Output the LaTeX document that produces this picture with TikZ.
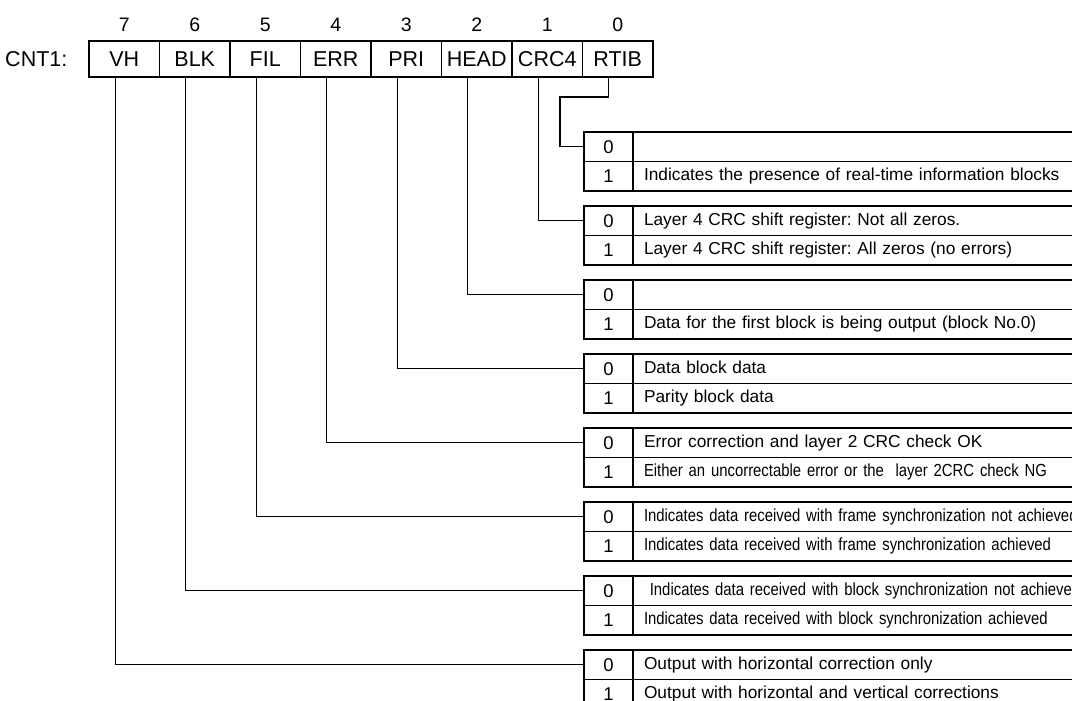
\documentclass[tikz,border=0pt]{standalone}
\usepackage{fontspec}
\setmainfont{Liberation Sans}
\newfontfamily\narrowfont[FakeStretch=0.85]{Liberation Sans}
\usetikzlibrary{positioning}

\tikzset{
    reg/.style={draw, rectangle, minimum width=70.5pt, minimum height=36pt,
        inner sep=0pt, outer sep=0pt, font=\fontsize{21.5}{24}\selectfont},
    regname/.style={inner sep=0pt, font=\fontsize{21.5}{24}\selectfont},
    bitno/.style={inner sep=0pt, font=\fontsize{19.5}{22}\selectfont},
    val/.style={draw, rectangle, minimum width=49pt, minimum height=29.5pt,
        inner sep=0pt, outer sep=0pt, font=\fontsize{18.5}{20}\selectfont},
    desc/.style={draw, rectangle, minimum height=29.5pt, text width=600pt,
        inner xsep=11pt, inner ysep=0pt, outer sep=0pt, align=left,
        text height=12.5pt, text depth=3.5pt, font=\frenchspacing\fontsize{17.3}{20}\selectfont},
    narrow/.style={desc, font=\frenchspacing\narrowfont\fontsize{17.5}{20}\selectfont},
}

\begin{document}
\begin{tikzpicture}[x=1pt,y=-1pt,line width=1.3pt,node distance=0pt,label distance=9pt]
    \useasboundingbox (0,0) rectangle (1072,701);
    \clip (0,0) rectangle (1072,701);

    % register CNT1
    \node   [reg, anchor=west, label={[bitno]above:7}]  (vh)   at (89,59) {VH};
    \node   [reg, label={[bitno]above:6}]   [right=of vh]       (blk)   {BLK};
    \node   [reg, label={[bitno]above:5}]   [right=of blk]      (fil)   {FIL};
    \node   [reg, label={[bitno]above:4}]   [right=of fil]      (err)   {ERR};
    \node   [reg, label={[bitno]above:3}]   [right=of err]      (pri)   {PRI};
    \node   [reg, label={[bitno]above:2}]   [right=of pri]      (head)  {HEAD};
    \node   [reg, label={[bitno]above:1}]   [right=of head]     (crc)   {CRC4};
    \node   [reg, label={[bitno]above:0}]   [right=of crc]      (rtib)  {RTIB};
    \node   [regname]                       [left=21pt of vh]   (cnt)   {CNT1:};

    % bit value tables
    \node   [val, anchor=north west]        (rtib0) at (584,132) {0};
    \node   [val]   [below=of rtib0]        (rtib1) {1};
    \node   [val]   [below=15pt of rtib1]   (crc0)  {0};
    \node   [val]   [below=of crc0]         (crc1)  {1};
    \node   [val]   [below=15pt of crc1]    (head0) {0};
    \node   [val]   [below=of head0]        (head1) {1};
    \node   [val]   [below=15pt of head1]   (pri0)  {0};
    \node   [val]   [below=of pri0]         (pri1)  {1};
    \node   [val]   [below=15pt of pri1]    (err0)  {0};
    \node   [val]   [below=of err0]         (err1)  {1};
    \node   [val]   [below=15pt of err1]    (fil0)  {0};
    \node   [val]   [below=of fil0]         (fil1)  {1};
    \node   [val]   [below=15pt of fil1]    (blk0)  {0};
    \node   [val]   [below=of blk0]         (blk1)  {1};
    \node   [val]   [below=15pt of blk1]    (vh0)   {0};
    \node   [val]   [below=of vh0]          (vh1)   {1};

    \node   [desc]      [right=of rtib0]    (rtibt0) {};
    \node   [desc]      [right=of rtib1]    (rtibt1) {Indicates the presence of real-time information blocks};
    \node   [desc]      [right=of crc0]     (crct0)  {Layer 4 CRC shift register: Not all zeros.};
    \node   [desc]      [right=of crc1]     (crct1)  {Layer 4 CRC shift register: All zeros (no errors)};
    \node   [desc]      [right=of head0]    (headt0) {};
    \node   [desc]      [right=of head1]    (headt1) {Data for the first block is being output (block No.0)};
    \node   [desc]      [right=of pri0]     (prit0)  {Data block data};
    \node   [desc]      [right=of pri1]     (prit1)  {Parity block data};
    \node   [desc]      [right=of err0]     (errt0)  {Error correction and layer 2 CRC check OK};
    \node   [narrow]    [right=of err1]     (errt1)  {Either an uncorrectable error or the \ layer 2CRC check NG};
    \node   [narrow]    [right=of fil0]     (filt0)  {Indicates data received with frame synchronization not achieved};
    \node   [narrow]    [right=of fil1]     (filt1)  {Indicates data received with frame synchronization achieved};
    \node   [narrow]    [right=of blk0]     (blkt0)  {\ Indicates data received with block synchronization not achieved};
    \node   [narrow]    [right=of blk1]     (blkt1)  {Indicates data received with block synchronization achieved};
    \node   [desc]      [right=of vh0]      (vht0)   {Output with horizontal correction only};
    \node   [desc]      [right=of vh1]      (vht1)   {Output with horizontal and vertical corrections};

    % bit lines
    \draw   ([xshift=-9pt]rtib.south) -- ++(0,20) -| ([xshift=-24pt]rtib0.west) -- (rtib0.west);
    \draw   ([xshift=-9pt]crc.south)  |- (crc0.west);
    \draw   ([xshift=-9pt]head.south) |- (head0.west);
    \draw   ([xshift=-9pt]pri.south)  |- (pri0.west);
    \draw   ([xshift=-9pt]err.south)  |- (err0.west);
    \draw   ([xshift=-9pt]fil.south)  |- (fil0.west);
    \draw   ([xshift=-9pt]blk.south)  |- (blk0.west);
    \draw   ([xshift=-9pt]vh.south)   |- (vh0.west);
\end{tikzpicture}
\end{document}
